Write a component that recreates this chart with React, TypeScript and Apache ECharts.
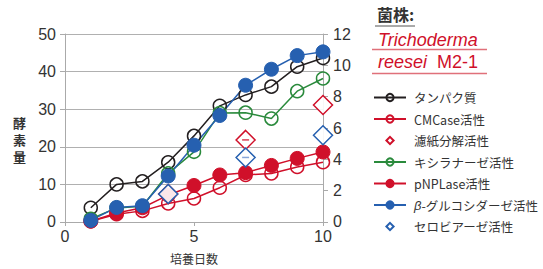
import React, { useEffect, useRef } from "react";
import * as echarts from "echarts";

const days = [1, 2, 3, 4, 5, 6, 7, 8, 9, 10];
const diamondDays = [4, 7, 10];
// left axis
const protein = [3.8, 10.0, 10.8, 15.9, 22.9, 30.9, 33.8, 36.0, 41.3, 43.6];
// right axis
const cmcase = [0.05, 0.5, 0.71, 1.18, 1.5, 2.19, 3.0, 3.1, 3.51, 3.82];
const filterPaper = [1.78, 5.24, 7.47];
const xylanase = [0.2, 0.9, 1.0, 3.1, 4.48, 6.96, 6.98, 6.6, 8.35, 9.16];
const pnplase = [0.05, 0.57, 0.91, 1.72, 2.33, 3.0, 3.15, 3.61, 4.06, 4.47];
const bgluc = [0.1, 0.93, 1.04, 2.94, 4.9, 6.8, 8.73, 9.75, 10.62, 10.86];
const cellobiase = [1.79, 4.12, 5.54];
const leftTicks = [0, 10, 20, 30, 40, 50];
const rightTicks = [0, 2, 4, 6, 8, 10, 12];

const names = [
  "タンパク質",
  "CMCase活性",
  "濾紙分解活性",
  "キシラナーゼ活性",
  "pNPLase活性",
  "β-グルコシダーゼ活性",
  "セロビアーゼ活性",
];

const BLACK = "#231f20";
const RED = "#d0102a";
const GREEN = "#2a8a3c";
const BLUE = "#2660b0";
const FONT = "'Liberation Sans', 'Noto Sans CJK JP', sans-serif";
const JP = "'Noto Sans CJK JP', 'Liberation Sans', sans-serif";

const pair = (xs: number[], ys: number[]) => xs.map((x, i) => [x, ys[i]]);

export default function App() {
  const ref = useRef<HTMLDivElement>(null);
  useEffect(() => {
    document.body.style.margin = "0";
    if (!ref.current) return;
    const chart = echarts.init(ref.current, undefined, { renderer: "svg" });
    const openLine = (name: string, color: string, data: number[][], yAxisIndex: number) => ({
      name,
      type: "line",
      yAxisIndex,
      data,
      symbol: "circle",
      symbolSize: 13,
      lineStyle: { color, width: 1.5 },
      itemStyle: { color: "rgba(255,255,255,0)", borderColor: color, borderWidth: 1.5 },
    });
    const filledLine = (name: string, color: string, data: number[][]) => ({
      name,
      type: "line",
      yAxisIndex: 1,
      data,
      symbol: "circle",
      symbolSize: 14,
      lineStyle: { color, width: 1.5 },
      itemStyle: { color, borderColor: color, borderWidth: 1 },
    });
    const diamonds = (name: string, color: string, data: number[][]) => ({
      name,
      type: "line",
      yAxisIndex: 1,
      data,
      symbol: "diamond",
      symbolSize: 19,
      lineStyle: { color, width: 0, opacity: 0 },
      itemStyle: { color: "rgba(255,255,255,0.9)", borderColor: color, borderWidth: 1.5 },
    });
    const dash = (color: string, data: number[][]) => ({
      type: "scatter",
      yAxisIndex: 1,
      data,
      z: 10,
      symbol: "rect",
      symbolSize: [7, 1.5],
      silent: true,
      itemStyle: { color },
    });
    const charStyle = (t: string, top: number) => ({
      type: "text",
      left: 13,
      top,
      style: { text: t, font: `bold 13px ${JP}`, fill: "#333", lineHeight: 14 },
    });
    chart.setOption({
      animation: false,
      grid: { left: 65, right: 220, top: 34, bottom: 38 },
      xAxis: {
        type: "value",
        min: 0,
        max: 10,
        interval: 5,
        name: "培養日数",
        nameLocation: "middle",
        nameGap: 30,
        nameTextStyle: { fontFamily: JP, fontSize: 12, color: "#333" },
        axisLine: { lineStyle: { color: "#aaa" } },
        axisTick: { show: true, inside: false, length: 4, lineStyle: { color: "#aaa" } },
        axisLabel: { fontFamily: FONT, fontSize: 16, color: "#333", margin: 6 },
        splitLine: { show: false },
      },
      yAxis: [
        {
          type: "value",
          min: leftTicks[0],
          max: leftTicks[leftTicks.length - 1],
          interval: 10,
          axisLine: { show: true, lineStyle: { color: "#aaa" } },
          axisTick: { show: true, length: 5, lineStyle: { color: "#aaa" } },
          axisLabel: { fontFamily: FONT, fontSize: 16, color: "#333", margin: 9 },
          splitLine: { show: true, lineStyle: { color: "#b0b0b0", width: 1 } },
        },
        {
          type: "value",
          min: rightTicks[0],
          max: rightTicks[rightTicks.length - 1],
          interval: 2,
          position: "right",
          axisLine: { show: true, lineStyle: { color: "#aaa" } },
          axisTick: { show: true, length: 5, lineStyle: { color: "#aaa" } },
          axisLabel: { fontFamily: FONT, fontSize: 16, color: "#333", margin: 10 },
          splitLine: { show: false },
        },
      ],
      legend: {
        orient: "vertical",
        left: 373,
        top: 90.5,
        padding: 0,
        itemWidth: 32,
        itemHeight: 9,
        itemGap: 7.5,
        data: names,
        formatter: (n: string) => (n.startsWith("β") ? `{i|β}${n.slice(1)}` : n),
        textStyle: {
          fontFamily: JP,
          fontSize: 12.5,
          lineHeight: 14,
          color: "#333",
          padding: [0, 0, 0, 3],
          rich: { i: { fontFamily: FONT, fontStyle: "italic", fontSize: 13, color: "#333" } },
        },
      },
      graphic: [
        { type: "text", left: 377, top: 6, style: { text: "菌株:", font: `bold 16px ${JP}`, fill: "#333" } },
        { type: "line", shape: { x1: 375, y1: 26, x2: 415, y2: 26 }, style: { stroke: "#555", lineWidth: 1 } },
        { type: "text", left: 378, top: 31, style: { text: "Trichoderma", font: `italic 18px ${FONT}`, fill: RED } },
        { type: "line", shape: { x1: 372, y1: 49.5, x2: 487, y2: 49.5 }, style: { stroke: "#e0707a", lineWidth: 1.5 } },
        {
          type: "text",
          left: 378,
          top: 53,
          style: {
            text: "{i|reesei}{n|  M2-1}",
            rich: {
              i: { font: `italic 18px ${FONT}`, fill: RED },
              n: { font: `18px ${FONT}`, fill: RED },
            },
          },
        },
        { type: "line", shape: { x1: 372, y1: 73.5, x2: 487, y2: 73.5 }, style: { stroke: "#e0707a", lineWidth: 1.5 } },
        charStyle("酵", 115),
        charStyle("素", 132),
        charStyle("量", 149),
      ],
      series: [
        openLine(names[0], BLACK, pair(days, protein), 0),
        openLine(names[1], RED, pair(days, cmcase), 1),
        diamonds(names[2], RED, pair(diamondDays, filterPaper)),
        openLine(names[3], GREEN, pair(days, xylanase), 1),
        filledLine(names[4], RED, pair(days, pnplase)),
        filledLine(names[5], BLUE, pair(days, bgluc)),
        diamonds(names[6], BLUE, pair(diamondDays, cellobiase)),
        dash(RED, pair(diamondDays.slice(1, 2), filterPaper.slice(1, 2))),
        dash("#6a90d0", pair(diamondDays.slice(1, 2), cellobiase.slice(1, 2))),
      ],
    });
    return () => chart.dispose();
  }, []);
  return <div ref={ref} style={{ width: 543, height: 269 }} />;
}
